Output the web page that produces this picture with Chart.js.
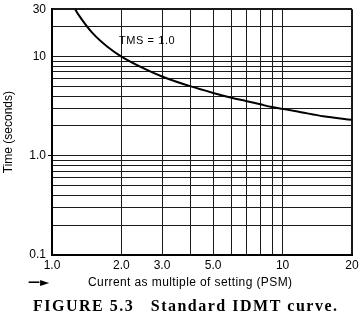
<!DOCTYPE html>
<html>
<head>
<meta charset="utf-8">
<script src="https://cdn.jsdelivr.net/npm/chart.js@4.4.1/dist/chart.umd.min.js"></script>
<style>
  html, body { margin: 0; padding: 0; background: #fff; }
</style>
</head>
<body>
<canvas id="idmt-chart" width="362" height="332"></canvas>
<script>
// Curve (current as multiple of setting vs operating time)
const psm = [1.26, 1.3, 1.5, 1.75, 2, 2.5, 3, 4, 5, 6, 7, 8, 9, 10, 12, 15, 20];
const seconds = [30, 26.6, 17.2, 12.4, 10.0, 7.6, 6.3, 5.0, 4.3, 3.85, 3.55, 3.3, 3.1, 2.97, 2.75, 2.5, 2.3];

// Grid / tick positions
const xTickValues = [1, 2, 3, 4, 5, 6, 7, 8, 9, 10, 20];
const xTickLabels = ['1.0', '2.0', '3.0', '', '5.0', '', '', '', '', '10', '20'];
const yTickValues = [0.1, 0.2, 0.3, 0.4, 0.5, 0.6, 0.7, 0.8, 0.9,
  1, 2, 3, 4, 5, 6, 7, 8, 9, 10, 20, 30];
const yTickLabels = ['0.1', '', '', '', '', '', '', '', '',
  '1.0', '', '', '', '', '', '', '', '', '10', '', '30'];

const seriesLabel = 'TMS = 1.0';

const axisFont = { family: '"Liberation Sans", Arial, sans-serif', size: 12 };

// extra texts: curve label, x title arrow line, figure caption
const textPlugin = {
  id: 'figureText',
  afterDraw(chart) {
    const ctx = chart.ctx;
    const x = chart.scales.x;
    const y = chart.scales.y;
    ctx.save();
    ctx.fillStyle = '#000';
    ctx.textBaseline = 'middle';
    ctx.textAlign = 'left';
    ctx.font = '11px "Liberation Sans", Arial, sans-serif';
    ctx.letterSpacing = '0.6px';
    ctx.fillText(seriesLabel, x.getPixelForValue(1.95), y.getPixelForValue(14.5));

    // x axis title with its arrow
    ctx.font = 'bold 12px "DejaVu Sans", sans-serif';
    ctx.letterSpacing = '0px';
    ctx.fillText('\u2014\u25BA', 28, 283);
    ctx.font = '12px "Liberation Sans", Arial, sans-serif';
    ctx.letterSpacing = '0.4px';
    ctx.fillText('Current as multiple of setting (PSM)', 88, 283);

    ctx.font = 'bold 16px "Liberation Serif", "Times New Roman", serif';
    ctx.letterSpacing = '1.5px';
    ctx.fillText('FIGURE 5.3   Standard IDMT curve.', 33, 307);
    ctx.restore();
  }
};

const ctx = document.getElementById('idmt-chart');
new Chart(ctx, {
  type: 'line',
  data: {
    datasets: [{
      label: seriesLabel,
      data: psm.map((v, i) => ({ x: v, y: seconds[i] })),
      borderColor: '#000',
      borderWidth: 2,
      pointRadius: 0,
      fill: false,
      cubicInterpolationMode: 'monotone'
    }]
  },
  options: {
    responsive: false,
    animation: false,
    layout: { padding: { top: 9, right: 10, left: 0, bottom: 0 } },
    plugins: {
      legend: { display: false },
      tooltip: { enabled: false }
    },
    scales: {
      x: {
        type: 'logarithmic',
        min: 1,
        max: 20,
        afterBuildTicks: (s) => { s.ticks = xTickValues.map(v => ({ value: v })); },
        afterFit: (s) => { s.height = 77; },
        ticks: {
          color: '#000',
          font: axisFont,
          padding: 3,
          maxRotation: 0,
          autoSkip: false,
          callback: (v, i) => xTickLabels[i]
        },
        grid: {
          color: '#1a1a1a',
          lineWidth: (c) => (c.tick && c.tick.value === 20 ? 2 : 1),
          drawTicks: false
        },
        border: { color: '#000', width: 2 }
      },
      y: {
        type: 'logarithmic',
        min: 0.1,
        max: 30,
        afterBuildTicks: (s) => { s.ticks = yTickValues.map(v => ({ value: v })); },
        afterFit: (s) => { s.width = 52; },
        title: {
          display: true,
          text: 'Time (seconds)',
          color: '#000',
          font: { family: '"Liberation Sans", Arial, sans-serif', size: 12 },
          padding: { top: 1, bottom: 0 }
        },
        ticks: {
          color: '#000',
          font: axisFont,
          padding: 2,
          autoSkip: false,
          callback: (v, i) => yTickLabels[i]
        },
        grid: {
          color: '#1a1a1a',
          lineWidth: (c) => (c.tick && c.tick.value === 30 ? 2 : 1),
          tickLength: 4,
          tickColor: (c) => (c.index !== undefined && yTickLabels[c.index] === '1.0' ? '#000' : 'rgba(0,0,0,0)')
        },
        border: { color: '#000', width: 2 }
      }
    }
  },
  plugins: [textPlugin]
});
</script>
</body>
</html>
